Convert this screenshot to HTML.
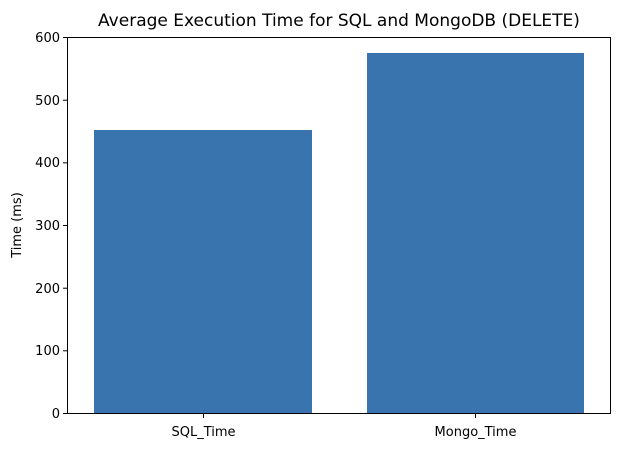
<!DOCTYPE html>
<html><head><meta charset="utf-8"><style>
body{margin:0;background:#fff;width:628px;height:444px;overflow:hidden}
svg text{font-family:"DejaVu Sans","Liberation Sans",sans-serif;fill:#000}
</style></head><body>
<svg width="628" height="444" xmlns="http://www.w3.org/2000/svg">
<rect x="0" y="0" width="628" height="444" fill="#fff"/>
<text x="339" y="26" font-size="17" text-anchor="middle">Average Execution Time for SQL and MongoDB (DELETE)</text>
<rect x="94" y="130" width="218" height="283" fill="#3a74ae"/>
<rect x="367" y="53" width="217" height="360" fill="#3a74ae"/>
<rect x="67.5" y="37.5" width="543" height="376" fill="none" stroke="#000" stroke-width="1"/>
<g stroke="#000" stroke-width="1">
<line x1="63" y1="413.5" x2="67" y2="413.5"/>
<line x1="63" y1="350.8" x2="67" y2="350.8"/>
<line x1="63" y1="288.2" x2="67" y2="288.2"/>
<line x1="63" y1="225.5" x2="67" y2="225.5"/>
<line x1="63" y1="162.8" x2="67" y2="162.8"/>
<line x1="63" y1="100.2" x2="67" y2="100.2"/>
<line x1="63" y1="37.5" x2="67" y2="37.5"/>
<line x1="203.5" y1="414" x2="203.5" y2="418"/>
<line x1="475.5" y1="414" x2="475.5" y2="418"/>
</g>
<g font-size="13" text-anchor="end">
<text x="60" y="418">0</text>
<text x="60" y="355">100</text>
<text x="60" y="293">200</text>
<text x="60" y="230">300</text>
<text x="60" y="167">400</text>
<text x="60" y="105">500</text>
<text x="60" y="42">600</text>
</g>
<g font-size="13" text-anchor="middle">
<text x="203.5" y="436">SQL_Time</text>
<text x="475.5" y="436">Mongo_Time</text>
</g>
<text x="0" y="0" font-size="13" text-anchor="middle" transform="translate(21,225) rotate(-90)">Time (ms)</text>
</svg>
</body></html>
